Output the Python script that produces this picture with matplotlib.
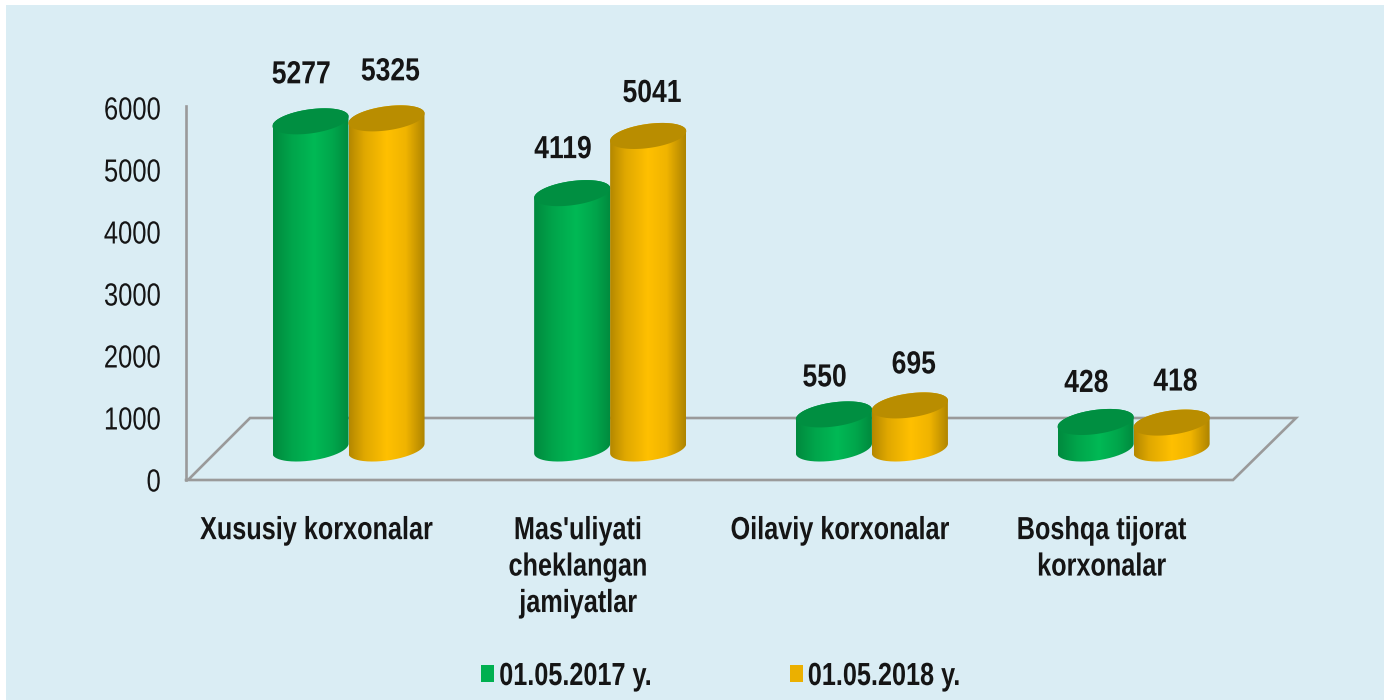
import numpy as np
import matplotlib
matplotlib.use('Agg')
import matplotlib.pyplot as plt
from matplotlib.colors import LinearSegmentedColormap
from matplotlib.patches import Patch, PathPatch, Polygon, Rectangle
from matplotlib.patheffects import AbstractPathEffect
from matplotlib.path import Path
from matplotlib.transforms import Affine2D

categories = ["Xususiy korxonalar", "Mas'uliyati\ncheklangan\njamiyatlar",
              "Oilaviy korxonalar", "Boshqa tijorat\nkorxonalar"]
series_names = ["01.05.2017 y.", "01.05.2018 y."]
values_2017 = [5277, 4119, 550, 428]
values_2018 = [5325, 5041, 695, 418]
yticks = [0, 1000, 2000, 3000, 4000, 5000, 6000]

W, H = 1391, 700
plt.rcParams['font.family'] = ['Liberation Sans']
BG = '#DAEDF4'
GRID = '#9A9A9A'
TXT = '#151515'

# pixel geometry of the fake 3d plot
x0_px, x1_px, y0_px, top_px = 186, 1297, 480, 50
group0_px, group_step = 348.5, 261.7
half_w_px = 38
half_w = half_w_px / group_step
px_per_unit = (480 - 108) / 6000
floor_v = 31.5 / px_per_unit   # bars stand on the floor, above the zero line
ELL_A, ELL_B, ELL_ROT = 38.4, 12.0, np.radians(8)
# gap between top of bar and its label, px
gap_2017 = [46, 43, 36, 38]
gap_2018 = [46, 42, 40, 40]


class Squeeze(AbstractPathEffect):
    # the reference text is a stretched narrow face, none is installed
    def __init__(self, sx=0.8, anchor='center'):
        super().__init__()
        self.sx = sx
        self.anchor = anchor

    def draw_path(self, renderer, gc, tpath, affine, rgbFace=None):
        xs = tpath.vertices[:, 0]
        if len(xs) == 0:
            return
        ref = {'left': xs.min(), 'center': (xs.min() + xs.max()) / 2, 'right': xs.max()}[self.anchor]
        m = affine.get_matrix().copy()
        m[0, 2] += (1 - self.sx) * m[0, 0] * ref
        m[0, 0] *= self.sx
        renderer.draw_path(gc, tpath, Affine2D(m), rgbFace)


fig = plt.figure(figsize=(W / 100, H / 100), dpi=100, facecolor='white')
fig.add_artist(Rectangle((6 / W, 0), 1378 / W, (H - 5) / H, transform=fig.transFigure,
                         facecolor=BG, edgecolor='none', zorder=-10))
ax = fig.add_axes([x0_px / W, (H - y0_px) / H, (x1_px - x0_px) / W, (y0_px - top_px) / H])
ax.patch.set_alpha(0)


def floor_line(pts):
    xs = [a / W for a, b in pts]
    ys = [(H - b) / H for a, b in pts]
    ax.add_line(plt.Line2D(xs, ys, transform=fig.transFigure, color=GRID, lw=1.9,
                           solid_joinstyle='miter', clip_on=False, zorder=1))


def ellipse(cx, v):
    t = np.linspace(0, 2 * np.pi, 240, endpoint=False)
    ex = ELL_A * np.cos(t) * np.cos(ELL_ROT) - ELL_B * np.sin(t) * np.sin(ELL_ROT)
    ey = ELL_A * np.cos(t) * np.sin(ELL_ROT) + ELL_B * np.sin(t) * np.cos(ELL_ROT)
    return cx + ex / group_step, floor_v + v + ey / px_per_unit


def cylinder(cx, v, cmap, top_color):
    bx, by = ellipse(cx, 0)
    tx, ty = ellipse(cx, v)
    il, ir = int(np.argmin(bx)), int(np.argmax(bx))
    low = np.arange(il, ir + 1) if il < ir else np.r_[il:240, 0:ir + 1]
    up = np.arange(ir, il + 1) if ir < il else np.r_[ir:240, 0:il + 1]
    body = PathPatch(Path(np.column_stack([np.r_[bx[low], tx[up]], np.r_[by[low], ty[up]]])),
                     transform=ax.transData, facecolor='none', edgecolor='none')
    ax.add_patch(body)
    grad = np.linspace(0, 1, 128).reshape(1, -1)
    im = ax.imshow(grad, cmap=cmap, aspect='auto', interpolation='bilinear', zorder=3,
                   extent=(cx - half_w, cx + half_w, 0, floor_v + v + 20 / px_per_unit))
    im.set_clip_path(body)
    ax.add_patch(Polygon(np.column_stack([tx, ty]), facecolor=top_color, edgecolor='none', zorder=3))


green = LinearSegmentedColormap.from_list('g', [(0, '#008A3E'), (0.25, '#00A54B'), (0.55, '#00B955'),
                                                (0.8, '#00A54B'), (1, '#008A3E')])
orange = LinearSegmentedColormap.from_list('o', [(0, '#B48800'), (0.2, '#E0A800'), (0.5, '#FFC000'),
                                                 (0.75, '#F0B400'), (1, '#AE8400')])

floor_line([(186, 480), (1233, 480), (1296, 418), (250, 418), (189, 479)])

for i in range(len(categories)):
    cylinder(i - half_w, values_2017[i], green, '#008F41')
    cylinder(i + half_w, values_2018[i], orange, '#B98D00')
    for vals, gaps, dx in ((values_2017, gap_2017, -half_w - 0.035), (values_2018, gap_2018, half_w + 0.015)):
        lab = ax.annotate(str(vals[i]), (i + dx, floor_v + vals[i]), xytext=(0, gaps[i] * 0.72),
                          textcoords='offset points', ha='center', va='center', fontsize=23,
                          fontweight='bold', color=TXT, annotation_clip=False, zorder=5)
        lab.set_path_effects([Squeeze(0.83)])

ax.set_xlim((x0_px - group0_px) / group_step, (x1_px - group0_px) / group_step)
ax.set_ylim(0, (y0_px - top_px) / px_per_unit)
for s in ['top', 'right', 'bottom']:
    ax.spines[s].set_visible(False)
ax.spines['left'].set_color(GRID)
ax.spines['left'].set_linewidth(1.9)
ax.spines['left'].set_bounds(0, 6032)
ax.set_yticks(yticks)
ax.set_yticklabels([str(v) for v in yticks], fontsize=23, color=TXT)
ax.tick_params(axis='y', length=0, pad=18)
for lab in ax.get_yticklabels():
    lab.set_path_effects([Squeeze(0.8, 'right')])
ax.set_xticks([i - 32 / group_step for i in range(len(categories))])
ax.set_xticklabels(categories, fontsize=23, fontweight='bold', color=TXT, linespacing=1.28)
ax.tick_params(axis='x', length=0, pad=26)
for lab in ax.get_xticklabels():
    lab.set_path_effects([Squeeze(0.79)])

handles = [Patch(facecolor='#00B050', edgecolor='none'), Patch(facecolor='#EBB000', edgecolor='none')]
leg = fig.legend(handles, series_names, loc='center left', bbox_to_anchor=(481 / W, (H - 677) / H),
                 ncols=2, frameon=False, prop={'size': 23, 'weight': 'bold'}, labelcolor=TXT,
                 handlelength=0.41, handleheight=0.42, handletextpad=0.16, columnspacing=3.04,
                 borderpad=0, borderaxespad=0)
for lab in leg.get_texts():
    lab.set_path_effects([Squeeze(0.79, 'left')])

fig.savefig('out.png', dpi=100)
